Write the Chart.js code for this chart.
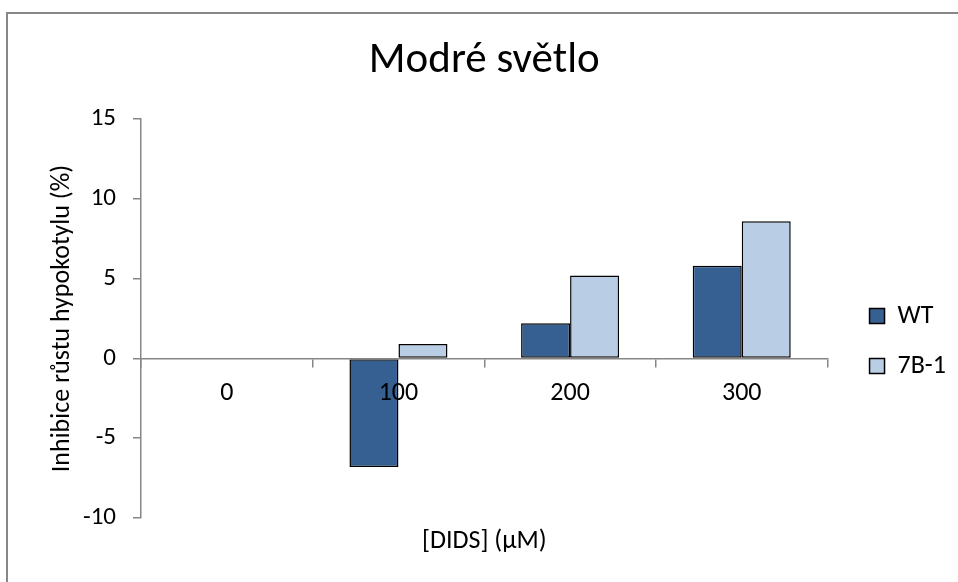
<!DOCTYPE html>
<html><head><meta charset="utf-8">
<script src="https://cdn.jsdelivr.net/npm/chart.js@4"></script>
<style>
html,body{margin:0;padding:0;background:#fff;}
#wrap{position:relative;width:958px;height:582px;overflow:hidden;}
#frame{position:absolute;left:6px;top:12px;width:2000px;height:2000px;border-left:2px solid #878787;border-top:2px solid #878787;}
canvas{position:absolute;left:0;top:0;}
</style></head><body>
<div id="wrap"><div id="frame"></div><canvas id="c" width="958" height="582"></canvas></div>
<script>
const categories = ['0', '100', '200', '300'];
const seriesNames = ['WT', '7B-1'];
const wtValues = [0, -6.8, 2.2, 5.8];
const b71Values = [0, 0.9, 5.2, 8.6];
const yMin = -10, yMax = 15, yStep = 5;
const titleText = 'Modré světlo';
const yTitleText = 'Inhibice růstu hypokotylu (%)';
const xTitleText = '[DIDS] (µM)';
const seriesColors = ['#366092', '#B9CDE5'];

const FONT = 'Carlito, Lato, "Open Sans", sans-serif';
const AXIS = '#868686';

const legendShift = {
  id: 'legendShift',
  afterLayout(chart) {
    const l = chart.legend;
    if (!l) return;
    l.left += 18; l.right += 18;
    l.top += 50; l.bottom += 50;
  }
};

new Chart(document.getElementById('c'), {
  type: 'bar',
  data: {
    labels: categories,
    datasets: [
      { label: seriesNames[0], data: wtValues, backgroundColor: seriesColors[0], borderColor: '#000', borderWidth: 1.5, borderSkipped: false, categoryPercentage: 0.571, barPercentage: 1 },
      { label: seriesNames[1], data: b71Values, backgroundColor: seriesColors[1], borderColor: '#000', borderWidth: 1.5, borderSkipped: false, categoryPercentage: 0.571, barPercentage: 1 }
    ]
  },
  options: {
    responsive: false,
    devicePixelRatio: 1,
    animation: false,
    layout: { padding: { left: 0, right: 20, top: 0, bottom: 0 } },
    plugins: {
      tooltip: { enabled: false },
      title: { display: true, text: titleText, color: '#000', fullSize: false, font: { family: FONT, size: 43, weight: 'normal' }, padding: { top: 35, bottom: 32.4 } },
      subtitle: { display: true, text: xTitleText, position: 'bottom', color: '#000', fullSize: false, font: { family: FONT, size: 26, weight: 'normal' }, padding: { top: 7.4, bottom: 25.4 } },
      legend: {
        position: 'right',
        labels: { color: '#000', boxWidth: 15, boxHeight: 15, padding: 24, font: { family: FONT, size: 26 } }
      }
    },
    scales: {
      x: {
        type: 'category',
        position: { y: 0 },
        grid: { z: 1, drawOnChartArea: false, drawTicks: true, tickLength: 8, color: AXIS, lineWidth: 1.5, offset: true },
        border: { z: 1, display: true, color: AXIS, width: 1.5 },
        ticks: { z: 1, color: '#000', padding: 11.4, font: { family: FONT, size: 26 }, maxRotation: 0 }
      },
      y: {
        min: yMin, max: yMax,
        afterFit(scale) { scale.width = 141; },
        grid: { drawOnChartArea: false, drawTicks: true, tickLength: 8, color: AXIS, lineWidth: 1.5 },
        border: { display: true, color: AXIS, width: 1.5 },
        ticks: { stepSize: yStep, color: '#000', padding: 17, font: { family: FONT, size: 25 } },
        title: { display: true, text: yTitleText, color: '#000', font: { family: FONT, size: 26 }, padding: { top: 46.4, bottom: 0 } }
      }
    }
  },
  plugins: [legendShift]
});
</script>
</body></html>
